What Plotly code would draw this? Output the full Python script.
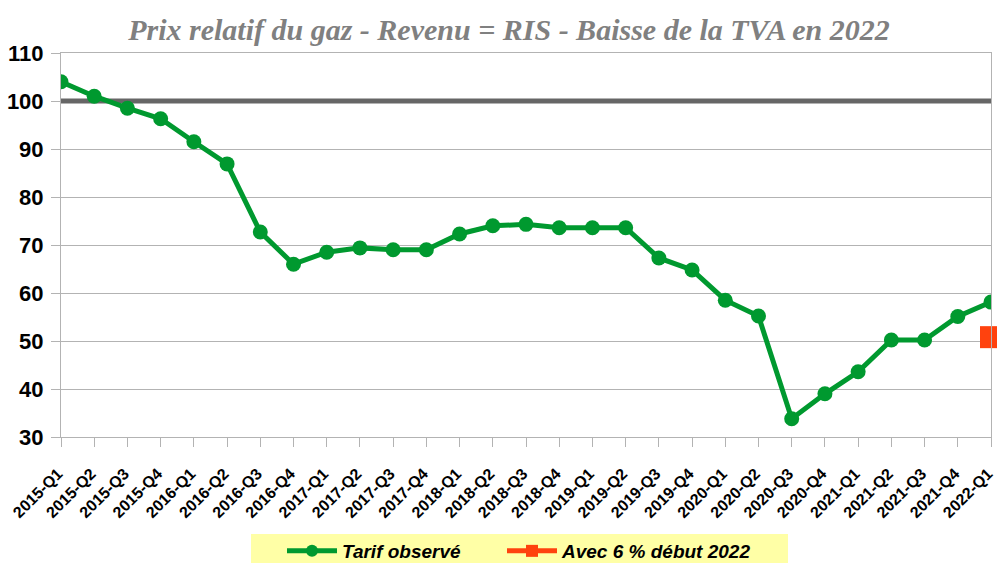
import plotly.graph_objects as go

categories = ["2015-Q1", "2015-Q2", "2015-Q3", "2015-Q4",
              "2016-Q1", "2016-Q2", "2016-Q3", "2016-Q4",
              "2017-Q1", "2017-Q2", "2017-Q3", "2017-Q4",
              "2018-Q1", "2018-Q2", "2018-Q3", "2018-Q4",
              "2019-Q1", "2019-Q2", "2019-Q3", "2019-Q4",
              "2020-Q1", "2020-Q2", "2020-Q3", "2020-Q4",
              "2021-Q1", "2021-Q2", "2021-Q3", "2021-Q4",
              "2022-Q1"]

tarif_observe = [104.0, 101.0, 98.5, 96.3,
                 91.5, 86.9, 72.7, 66.0,
                 68.5, 69.4, 69.0, 69.0,
                 72.3, 74.0, 74.3, 73.6,
                 73.6, 73.6, 67.3, 64.8,
                 58.5, 55.2, 33.8, 39.0,
                 43.6, 50.2, 50.2, 55.1,
                 58.1]

reference_100 = [100] * len(categories)

avec_tva_cat = ["2022-Q1"]
avec_tva_val = [50.8]

PLOT_L, PLOT_R, PLOT_T, PLOT_B = 61, 991, 53, 437
W, H = 997, 563

def px_to_paper_x(px):
    return (px - PLOT_L) / (PLOT_R - PLOT_L)

def px_to_paper_y(py):
    return (PLOT_B - py) / (PLOT_B - PLOT_T)

fig = go.Figure()

fig.add_trace(go.Scatter(
    x=categories, y=reference_100, mode="lines",
    line=dict(color="#666666", width=5),
    showlegend=False, hoverinfo="skip"))

fig.add_trace(go.Scatter(
    x=categories, y=tarif_observe, mode="lines+markers",
    name="<b><i>Tarif observé</i></b>",
    line=dict(color="#00992f", width=5),
    marker=dict(color="#00992f", size=15, symbol="circle"),
    legend="legend"))

fig.add_trace(go.Scatter(
    x=avec_tva_cat, y=avec_tva_val, mode="lines+markers",
    name="<b><i>Avec 6 % début 2022</i></b>",
    line=dict(color="#ff420e", width=5),
    marker=dict(color="#ff420e", size=22, symbol="square"),
    cliponaxis=False, legend="legend2"))

legend_common = dict(
    orientation="h", xanchor="left",
    y=px_to_paper_y(532), yanchor="top",
    bgcolor="rgba(0,0,0,0)", borderwidth=0,
    font=dict(family="Liberation Sans", size=19, color="black"),
    itemwidth=50, itemsizing="constant")

fig.update_layout(
    width=W, height=H,
    margin=dict(l=PLOT_L, r=W - PLOT_R, t=PLOT_T, b=H - PLOT_B, autoexpand=False),
    paper_bgcolor="white", plot_bgcolor="white",
    title=dict(
        text="<b><i>Prix relatif du gaz - Revenu = RIS - Baisse de la TVA en 2022</i></b>",
        font=dict(family="Liberation Serif", size=30, color="#808080"),
        x=0.5105, xanchor="center", y=1 - 29 / H, yanchor="middle"),
    font=dict(family="Liberation Sans", color="black"),
    legend=dict(x=px_to_paper_x(282), **legend_common),
    legend2=dict(x=px_to_paper_x(502), **legend_common),
    showlegend=True,
    shapes=[dict(
        type="rect", xref="paper", yref="paper",
        x0=px_to_paper_x(251), x1=px_to_paper_x(788),
        y0=px_to_paper_y(563), y1=px_to_paper_y(534),
        fillcolor="#ffffa6", line=dict(width=0), layer="below")],
)

fig.update_xaxes(
    type="category", range=[0, len(categories) - 1],
    tickangle=-45, dtick=1, automargin=False,
    tickfont=dict(family="Liberation Sans", size=16, color="black", weight="bold"),
    ticks="outside", ticklen=9, tickcolor="#b3b3b3",
    ticklabelstandoff=11, ticklabelshift=-3,
    showgrid=False, showline=True, mirror=True, linecolor="#b3b3b3", linewidth=1,
    zeroline=False)

fig.update_yaxes(
    range=[30, 110], dtick=10, automargin=False,
    tickfont=dict(family="Liberation Sans", size=22, color="black", weight="bold"),
    ticks="outside", ticklen=9, tickcolor="#b3b3b3", ticklabelstandoff=3,
    showgrid=True, gridcolor="#b3b3b3", gridwidth=1,
    showline=True, mirror=True, linecolor="#b3b3b3", linewidth=1,
    zeroline=False)

fig.write_html(
    "out.html",
    config={"displayModeBar": False},
    post_script="document.body.style.margin='0';document.body.style.overflow='hidden';")
